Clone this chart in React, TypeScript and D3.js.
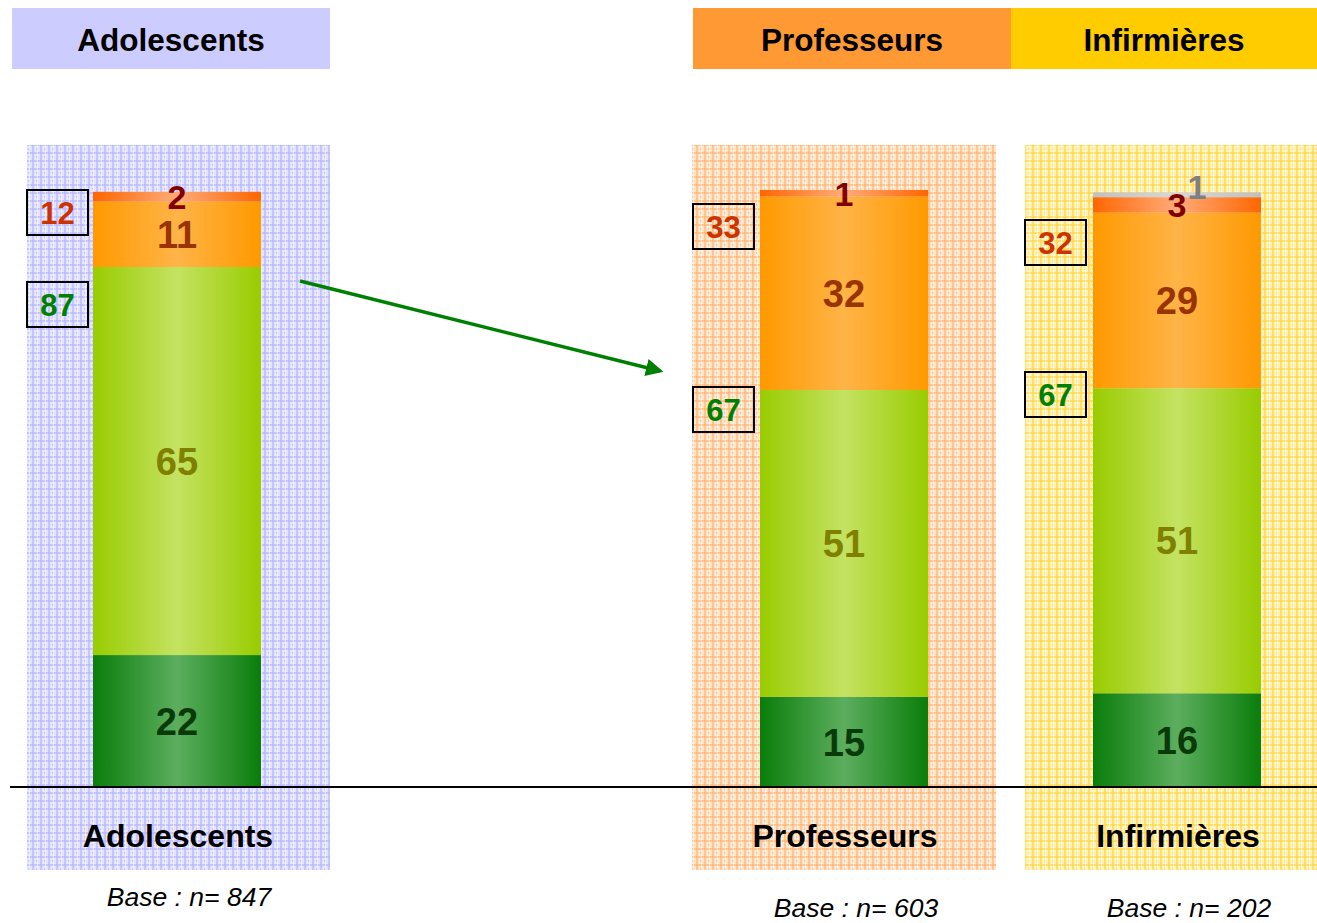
import React from 'react';
import * as d3 from 'd3';

const WIDTH = 1317;
const HEIGHT = 923;

// data (unrounded shares; labels are rounded)
const groups = ['Adolescents', 'Professeurs', 'Infirmières'];
const baseN = [847, 603, 202];
const tresSouvent = [22.1, 15.1, 15.7];
const assezSouvent = [65.0, 51.4, 51.1];
const rarement = [11.0, 32.4, 29.4];
const jamais = [1.6, 1.1, 2.6];
const nsp = [0, 0, 0.8];
const totalOui = [87, 67, 67];
const totalNon = [12, 33, 32];

const series = [
  { key: 'tres', values: tresSouvent, grad: 'gDark', text: '#0a3a0a' },
  { key: 'assez', values: assezSouvent, grad: 'gLight', text: '#808000' },
  { key: 'rare', values: rarement, grad: 'gOrange', text: '#993300' },
  { key: 'jamais', values: jamais, grad: 'gRed', text: '#800000' },
  { key: 'nsp', values: nsp, grad: 'gGray', text: '#808080' },
];

// layout (pixels)
const barCenters = [177, 844, 1177];
const BAR_W = 168;
const panels = [
  { x: 27, w: 303, pat: 'pLilac' },
  { x: 692, w: 304, pat: 'pOrange' },
  { x: 1025, w: 292, pat: 'pYellow' },
];
const headers = [
  { x: 12, w: 318, fill: '#ccccff' },
  { x: 693, w: 318, fill: '#ff9933' },
  { x: 1011, w: 306, fill: '#ffcc00' },
];
const boxX = [27, 693, 1025];
const nonBoxY = [190, 204, 220];
const ouiBoxY = [282, 387, 372];
const baseY = [906, 917, 917];

const BASELINE = 787;

const App = () => {
  const y = d3.scaleLinear().domain([0, 100]).range([BASELINE, 190]);
  const stack = groups.map((_, gi) => {
    let acc = 0;
    return series.map((s) => {
      const v = s.values[gi];
      const seg = { ...s, v, y0: acc, y1: acc + v };
      acc += v;
      return seg;
    });
  });

  const font = '"Liberation Sans", Arial, sans-serif';

  const grad = (id: string, edge: string, mid: string) => (
    <linearGradient id={id} x1="0" x2="1" y1="0" y2="0">
      <stop offset="0%" stopColor={edge} />
      <stop offset="50%" stopColor={mid} />
      <stop offset="100%" stopColor={edge} />
    </linearGradient>
  );

  const pattern = (id: string, base: string, line: string, dot: string) => (
    <pattern id={id} width={8} height={8} patternUnits="userSpaceOnUse">
      <rect width={8} height={8} fill={base} />
      <rect x={0} y={0} width={8} height={2} fill={line} opacity={0.7} />
      <rect x={0} y={0} width={2} height={8} fill={line} opacity={0.7} />
      <rect x={4} y={4} width={2} height={2} fill={dot} />
      <rect x={5} y={0} width={1} height={8} fill="#ffffff" opacity={0.6} />
    </pattern>
  );

  return (
    <svg width={WIDTH} height={HEIGHT} style={{ display: 'block', position: 'absolute', left: 0, top: 0 }} fontFamily={font}>
      <defs>
        {grad('gDark', '#0a7d0a', '#5cae5e')}
        {grad('gLight', '#99cc00', '#c4e262')}
        {grad('gOrange', '#ff9900', '#ffb447')}
        {grad('gRed', '#ff6600', '#ffab7a')}
        {grad('gGray', '#c0c0c0', '#d8d8d8')}
        {pattern('pLilac', '#e4e4ff', '#b8b8ff', '#c8c8ff')}
        {pattern('pOrange', '#ffe6cc', '#ffb677', '#ffc898')}
        {pattern('pYellow', '#fff2bb', '#ffd845', '#ffe07a')}
        <marker id="arrow" viewBox="0 0 10 10" refX="8" refY="5" markerWidth="5" markerHeight="5" orient="auto">
          <path d="M0,0 L10,5 L0,10 z" fill="#008000" />
        </marker>
      </defs>
      <rect width={WIDTH} height={HEIGHT} fill="#ffffff" />

      {headers.map((h, i) => (
        <g key={'h' + i}>
          <rect x={h.x} y={8} width={h.w} height={61} fill={h.fill} />
          <text x={h.x + h.w / 2} y={51} textAnchor="middle" fontSize={31.5} fontWeight="bold" fill="#000">
            {groups[i]}
          </text>
        </g>
      ))}

      {panels.map((p, i) => (
        <rect key={'p' + i} x={p.x} y={145} width={p.w} height={725} fill={`url(#${p.pat})`} />
      ))}

      {stack.map((segs, gi) => (
        <g key={'b' + gi}>
          {segs.filter((s) => s.v > 0).map((s) => (
            <rect
              key={s.key}
              x={barCenters[gi] - BAR_W / 2}
              width={BAR_W}
              y={y(s.y1)}
              height={y(s.y0) - y(s.y1)}
              fill={`url(#${s.grad})`}
            />
          ))}
          {segs.filter((s) => s.v > 0).map((s) => {
            const small = s.v < 5;
            const isNsp = s.key === 'nsp';
            const cx = barCenters[gi] + (isNsp ? 20 : 0);
            const cy = isNsp ? y(s.y1) - 6 : (y(s.y0) + y(s.y1)) / 2;
            return (
              <text
                key={'t' + s.key}
                x={cx}
                y={cy}
                dy="0.36em"
                textAnchor="middle"
                fontSize={small ? 34 : 38}
                fontWeight="bold"
                fill={s.text}
              >
                {Math.round(s.v)}
              </text>
            );
          })}
        </g>
      ))}

      {groups.map((_, gi) => (
        <g key={'box' + gi}>
          <rect x={boxX[gi]} y={nonBoxY[gi]} width={61} height={45} fill="none" stroke="#000" strokeWidth={2} />
          <text x={boxX[gi] + 30.5} y={nonBoxY[gi] + 22.5} dy="0.36em" textAnchor="middle" fontSize={31} fontWeight="bold" fill="#cc3300">
            {totalNon[gi]}
          </text>
          <rect x={boxX[gi]} y={ouiBoxY[gi]} width={61} height={45} fill="none" stroke="#000" strokeWidth={2} />
          <text x={boxX[gi] + 30.5} y={ouiBoxY[gi] + 22.5} dy="0.36em" textAnchor="middle" fontSize={31} fontWeight="bold" fill="#008000">
            {totalOui[gi]}
          </text>
        </g>
      ))}

      <line x1={10} x2={WIDTH} y1={BASELINE} y2={BASELINE} stroke="#000" strokeWidth={2} />

      <line x1={300} y1={281} x2={660} y2={371} stroke="#008000" strokeWidth={3.5} markerEnd="url(#arrow)" />

      {groups.map((g, gi) => (
        <g key={'l' + gi}>
          <text x={barCenters[gi] + 1} y={847} textAnchor="middle" fontSize={32} fontWeight="bold" fill="#000">
            {g}
          </text>
          <text x={barCenters[gi] + 12} y={baseY[gi]} textAnchor="middle" fontSize={26.5} fontStyle="italic" fill="#000">
            Base : <tspan>n</tspan>= {baseN[gi]}
          </text>
        </g>
      ))}
    </svg>
  );
};

export default App;
